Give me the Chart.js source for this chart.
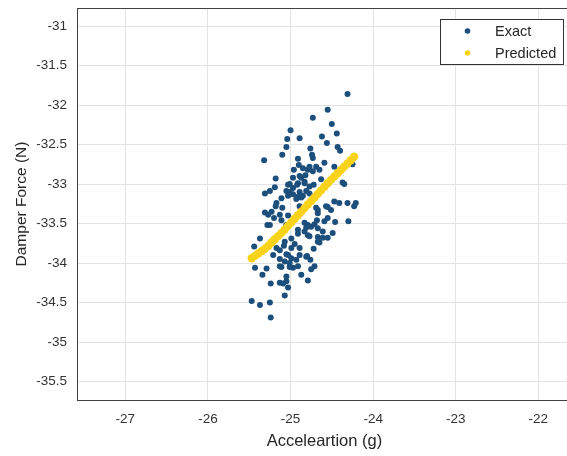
<!DOCTYPE html>
<html>
<head>
<meta charset="utf-8">
<script src="https://cdn.jsdelivr.net/npm/chart.js@4.4.1/dist/chart.umd.min.js"></script>
<style>
  html, body { margin: 0; padding: 0; background: #fff; overflow: hidden; }
  #wrap { width: 576px; height: 456px; }
</style>
</head>
<body>
<div id="wrap"><canvas id="chart"></canvas></div>
<script>
// exact samples (acceleration g, damper force N)
const exactX = [
  -24.31, -24.55, -24.73, -24.50, -25.00, -24.44, -25.04, -24.89, -24.62, -24.56,
  -25.05, -24.43, -24.76, -24.40, -25.10, -24.74, -24.73, -25.32, -24.91, -24.59,
  -24.25, -24.90, -24.77, -24.69, -24.47, -24.85, -24.79, -24.73, -24.65, -25.18,
  -24.97, -24.87, -24.63, -24.83, -25.03, -24.92, -25.19, -24.35, -24.89, -25.31,
  -25.25, -25.01, -24.77, -24.91, -24.47, -24.31, -24.21, -25.17, -24.41, -24.23,
  -25.23, -25.13, -25.11, -25.27, -25.25, -25.03, -24.67, -24.51, -24.55, -24.68,
  -24.55, -24.46, -24.30, -24.79, -24.75, -24.67, -24.91, -24.83, -24.61, -24.49,
  -24.79, -24.67, -24.99, -25.07, -25.37, -24.67, -25.44, -25.17, -24.99, -24.89,
  -25.21, -25.03, -24.89, -24.81, -25.13, -24.99, -25.07, -25.43, -25.29, -25.11,
  -25.01, -24.71, -24.75, -25.34, -25.05, -24.87, -24.79, -25.05, -25.24, -25.13,
  -25.09, -25.03, -25.07, -25.47, -25.37, -25.25, -25.24, -24.89, -25.01, -24.97,
  -24.91, -25.05, -25.03, -24.97, -24.93, -24.87, -24.89, -25.18, -25.10, -25.31,
  -25.20, -25.05, -25.28, -24.91, -24.83, -24.37, -24.77, -24.81, -24.85, -24.57,
  -24.69, -24.67, -24.59, -24.83, -24.71, -24.81, -24.77, -24.61, -24.55, -24.65,
  -25.13, -25.05, -24.93, -25.01, -25.13, -24.97, -24.91, -24.72, -24.80, -24.96,
  -24.82, -24.72, -25.11, -24.95, -25.08, -24.76
];
const exactY = [
  -31.86, -32.06, -32.16, -32.24, -32.32, -32.36, -32.43, -32.42, -32.40, -32.48,
  -32.53, -32.53, -32.55, -32.58, -32.63, -32.63, -32.67, -32.70, -32.68, -32.73,
  -32.75, -32.76, -32.78, -32.78, -32.78, -32.80, -32.82, -32.84, -32.82, -32.93,
  -32.92, -32.92, -32.94, -32.99, -33.01, -33.01, -33.04, -33.00, -33.10, -33.12,
  -33.09, -33.10, -33.12, -33.16, -33.22, -33.24, -33.24, -33.24, -33.24, -33.28,
  -33.35, -33.39, -33.46, -33.39, -33.52, -33.40, -33.33, -33.33, -33.29, -33.46,
  -33.43, -33.48, -33.47, -33.52, -33.54, -33.56, -33.58, -33.60, -33.60, -33.62,
  -33.65, -33.67, -33.69, -33.73, -33.69, -33.73, -33.79, -33.81, -33.81, -33.81,
  -33.90, -33.90, -33.90, -33.92, -33.95, -33.94, -33.98, -34.06, -34.07, -34.05,
  -34.05, -34.04, -34.08, -34.15, -34.17, -34.15, -34.22, -34.23, -34.26, -34.25,
  -34.26, -34.31, -34.41, -34.48, -34.53, -34.50, -34.69, -32.90, -33.00, -33.05,
  -32.99, -33.09, -33.15, -33.13, -33.19, -33.17, -33.28, -33.28, -33.30, -33.36,
  -33.43, -33.52, -33.52, -33.63, -32.97, -32.98, -33.03, -33.09, -33.15, -33.28,
  -33.30, -33.37, -33.47, -33.49, -33.51, -33.55, -33.66, -33.68, -33.68, -33.74,
  -33.84, -33.89, -33.96, -34.00, -34.04, -34.06, -34.04, -33.82, -33.91, -32.82,
  -32.89, -33.01, -33.18, -33.76, -33.78, -33.96
];

// predicted curve
const predX = [
  -25.47, -25.43, -25.39, -25.35, -25.31, -25.27, -25.23, -25.19, -25.15, -25.11,
  -25.07, -25.03, -24.99, -24.95, -24.91, -24.87, -24.83, -24.79, -24.75, -24.71,
  -24.67, -24.63, -24.59, -24.55, -24.51, -24.47, -24.43, -24.39, -24.35, -24.31,
  -24.27, -24.23
];
const predY = [
  -33.94, -33.91, -33.88, -33.85, -33.82, -33.785, -33.74, -33.70, -33.66, -33.62,
  -33.575, -33.53, -33.485, -33.44, -33.395, -33.35, -33.305, -33.26, -33.215, -33.17,
  -33.125, -33.08, -33.035, -32.99, -32.948, -32.906, -32.864, -32.822, -32.78, -32.74,
  -32.70, -32.655
];

const xTicks = [-27, -26, -25, -24, -23, -22];
const yTicks = [-31, -31.5, -32, -32.5, -33, -33.5, -34, -34.5, -35, -35.5];

const blue = '#1d4f7c';
const yellow = '#f8d31a';
const font = 'Liberation Sans, Arial, Helvetica, sans-serif';

// box top edge + legend inside the axes
const boxLegend = {
  id: 'boxLegend',
  afterDraw(chart) {
    const { ctx, chartArea } = chart;
    ctx.save();
    ctx.strokeStyle = '#404040';
    ctx.lineWidth = 1;
    ctx.beginPath();
    ctx.moveTo(chartArea.left, chartArea.top + 0.5);
    ctx.lineTo(chartArea.right, chartArea.top + 0.5);
    ctx.stroke();

    ctx.fillStyle = '#fff';
    ctx.fillRect(440, 19, 123, 45);
    ctx.strokeStyle = '#333';
    ctx.strokeRect(440.5, 19.5, 123, 45);

    ctx.font = '14.5px ' + font;
    ctx.textBaseline = 'middle';
    chart.data.datasets.slice().sort((a, b) => b.order - a.order).forEach((ds, i) => {
      const y = 31 + i * 22;
      ctx.fillStyle = ds.backgroundColor;
      ctx.beginPath();
      ctx.arc(467.5, y, 2.8, 0, Math.PI * 2);
      ctx.fill();
      ctx.fillStyle = '#262626';
      ctx.fillText(ds.label, 495, y + 1);
    });
    ctx.restore();
  }
};

new Chart(document.getElementById('chart'), {
  type: 'scatter',
  data: {
    datasets: [
      {
        label: 'Exact',
        data: exactX.map((x, i) => ({ x: x, y: exactY[i] })),
        backgroundColor: blue,
        borderWidth: 0,
        pointRadius: 3,
        order: 1
      },
      {
        label: 'Predicted',
        data: predX.map((x, i) => ({ x: x, y: predY[i] })),
        backgroundColor: yellow,
        borderWidth: 0,
        pointRadius: 4.2,
        order: 0
      }
    ]
  },
  options: {
    responsive: true,
    maintainAspectRatio: false,
    animation: false,
    layout: { padding: { left: 0, right: 0, top: 8, bottom: 0 } },
    plugins: { legend: { display: false }, tooltip: { enabled: false } },
    scales: {
      x: {
        type: 'linear',
        min: -27.585,
        max: -21.595,
        afterBuildTicks: s => { s.ticks = xTicks.map(v => ({ value: v })); },
        afterFit: s => { s.height = 56; s.paddingLeft = 0; s.paddingRight = 0; },
        grid: { color: '#e3e3e3', drawTicks: false },
        border: { color: '#404040' },
        ticks: { color: '#333', font: { family: font, size: 13.5 }, padding: 11, callback: v => String(v) },
        title: { display: true, text: 'Acceleartion (g)', color: '#262626',
                 font: { family: font, size: 16.5 }, padding: { top: 0, bottom: 5 } }
      },
      y: {
        type: 'linear',
        min: -35.734,
        max: -30.772,
        afterBuildTicks: s => { s.ticks = yTicks.map(v => ({ value: v })); },
        afterFit: s => { s.width = 77; s.paddingTop = 0; s.paddingBottom = 0; },
        grid: { color: '#e3e3e3', drawTicks: false },
        border: { color: '#404040' },
        ticks: { color: '#333', font: { family: font, size: 13.5 }, padding: 10, callback: v => String(v) },
        title: { display: true, text: 'Damper Force (N)', color: '#262626',
                 font: { family: font, size: 15.5 }, padding: { top: 12, bottom: 0 } }
      }
    }
  },
  plugins: [boxLegend]
});
</script>
</body>
</html>
